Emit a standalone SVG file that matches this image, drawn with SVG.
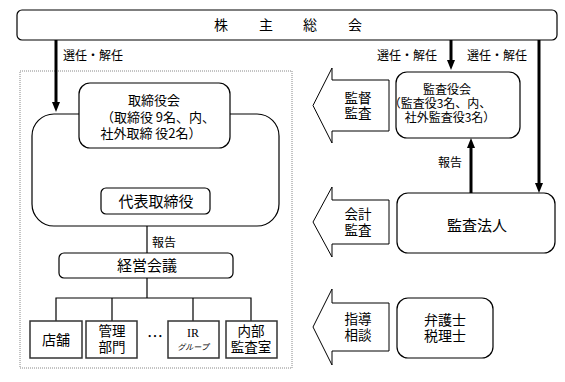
<svg xmlns="http://www.w3.org/2000/svg" width="565" height="382" viewBox="0 0 565 382">
<style>
text{font-family:"Noto Sans CJK JP","Noto Sans CJK SC",sans-serif;fill:#000}
.box{fill:#fff;stroke:#000;stroke-width:1.2}
.sq{fill:#fff;stroke:#333;stroke-width:1.5}
.thick{stroke:#000;stroke-width:3;fill:none}
.thin{stroke:#000;stroke-width:1.2;fill:none}
.lbl{font-size:12px}
.m{text-anchor:middle}
.blk{fill:#fff;stroke:#000;stroke-width:1}
.al{font-size:13.5px;text-anchor:middle}
.ad{font-size:12px;text-anchor:middle}
</style>
<defs>
<marker id="ah" viewBox="0 0 10 8" markerUnits="userSpaceOnUse" markerWidth="10" markerHeight="8" refX="2" refY="4" orient="auto">
<path d="M0,0 L10,4 L0,8 z" fill="#000"/>
</marker>
</defs>
<rect x="0" y="0" width="565" height="382" fill="#fff"/>
<rect x="20" y="71" width="272" height="297" fill="none" stroke="#888" stroke-width="1" stroke-dasharray="1,1"/>

<g id="connectors">
<line class="thick" x1="56" y1="40" x2="56" y2="104" marker-end="url(#ah)"/>
<line class="thick" x1="451" y1="40" x2="451" y2="62" marker-end="url(#ah)"/>
<line class="thick" x1="539" y1="40" x2="539" y2="185" marker-end="url(#ah)"/>
<line class="thick" x1="153" y1="148" x2="153" y2="179" marker-end="url(#ah)"/>
<line class="thick" x1="471" y1="193" x2="471" y2="146" marker-end="url(#ah)"/>
<line class="thin" x1="147" y1="226" x2="147" y2="253"/>
<path class="thin" d="M147,278 V298 M56,321 V298 H251 V321 M112,298 V321 M193,298 V321"/>
<text class="lbl" x="63" y="59.5">選任・解任</text>
<text class="lbl" x="377" y="59.5">選任・解任</text>
<text class="lbl" x="467" y="59.5">選任・解任</text>
<text class="lbl" x="163" y="171.5">選任・解任</text>
<text class="lbl" x="152" y="246.5">報告</text>
<text class="lbl" x="438" y="166.5">報告</text>
</g>

<g id="shareholders">
<rect class="box" x="17" y="10" width="540" height="30" rx="5"/>
<text style="font-size:14px" class="m" x="221 266 310 355" y="30">株主総会</text>
</g>

<g id="board">
<rect class="box" x="32" y="114" width="247" height="112" rx="22"/>
<rect class="box" x="79" y="83" width="151" height="65" rx="11"/>
<text class="m" style="font-size:13px"><tspan x="154" y="105">取締役会</tspan><tspan x="158" y="122">（取締役 9名、内、</tspan><tspan x="151" y="138">社外取締 役2名）</tspan></text>
</g>

<g id="rep">
<rect class="box" x="101" y="188" width="109" height="26" rx="5"/>
<text class="m" style="font-size:15px" x="156" y="206.5">代表取締役</text>
</g>

<g id="mgmt">
<rect class="box" x="59" y="253" width="174" height="25" rx="5"/>
<text class="m" style="font-size:15px" x="147" y="270.5">経営会議</text>
</g>

<g id="store">
<rect class="sq" x="30" y="321" width="52" height="37"/>
<text class="m" style="font-size:14px" x="56" y="345">店舗</text>
</g>
<g id="admin">
<rect class="sq" x="86" y="321" width="51" height="37"/>
<text class="al"><tspan x="112" y="335.5">管理</tspan><tspan x="112" y="351.5">部門</tspan></text>
</g>
<g id="dots">
<text class="m" style="font-size:16px" x="155" y="342">…</text>
</g>
<g id="ir">
<rect class="sq" x="168" y="321" width="51" height="37"/>
<text class="m" style="font-size:12px;font-family:'Liberation Serif',serif" x="193" y="337">IR</text>
<text class="m" style="font-size:8px;font-style:italic" x="193" y="350">グループ</text>
</g>
<g id="internal">
<rect class="sq" x="226" y="321" width="51" height="37"/>
<text class="al"><tspan x="251" y="335.5">内部</tspan><tspan x="251" y="351.5">監査室</tspan></text>
</g>

<g id="auditors">
<rect class="box" x="396" y="72" width="124" height="66" rx="11"/>
<text class="ad"><tspan x="447" y="94">監査役会</tspan><tspan x="440" y="107.5">（監査役3名、内、</tspan><tspan x="450" y="121.5">社外監査役3名）</tspan></text>
</g>

<g id="accountant">
<rect class="box" x="397" y="193" width="158" height="60" rx="11"/>
<text class="m" style="font-size:15px" x="477" y="230.5">監査法人</text>
</g>

<g id="lawyer">
<rect class="box" x="397" y="298" width="96" height="60" rx="11"/>
<text class="al" style="font-size:14px"><tspan x="445" y="325">弁護士</tspan><tspan x="445" y="340.5">税理士</tspan></text>
</g>

<g id="arrow-supervise">
<path class="blk" d="M313,105.5 L332,68 V80 H389 V131 H332 V143 Z"/>
<text class="al"><tspan x="358" y="102.5">監督</tspan><tspan x="358" y="118">監査</tspan></text>
</g>
<g id="arrow-accounting">
<path class="blk" d="M313,222 L332,187 V200 H389 V244 H332 V257 Z"/>
<text class="al"><tspan x="358" y="219">会計</tspan><tspan x="358" y="234.5">監査</tspan></text>
</g>
<g id="arrow-advice">
<path class="blk" d="M313,327 L332,289 V303 H389 V351 H332 V365 Z"/>
<text class="al"><tspan x="358" y="324">指導</tspan><tspan x="358" y="339.5">相談</tspan></text>
</g>
</svg>
